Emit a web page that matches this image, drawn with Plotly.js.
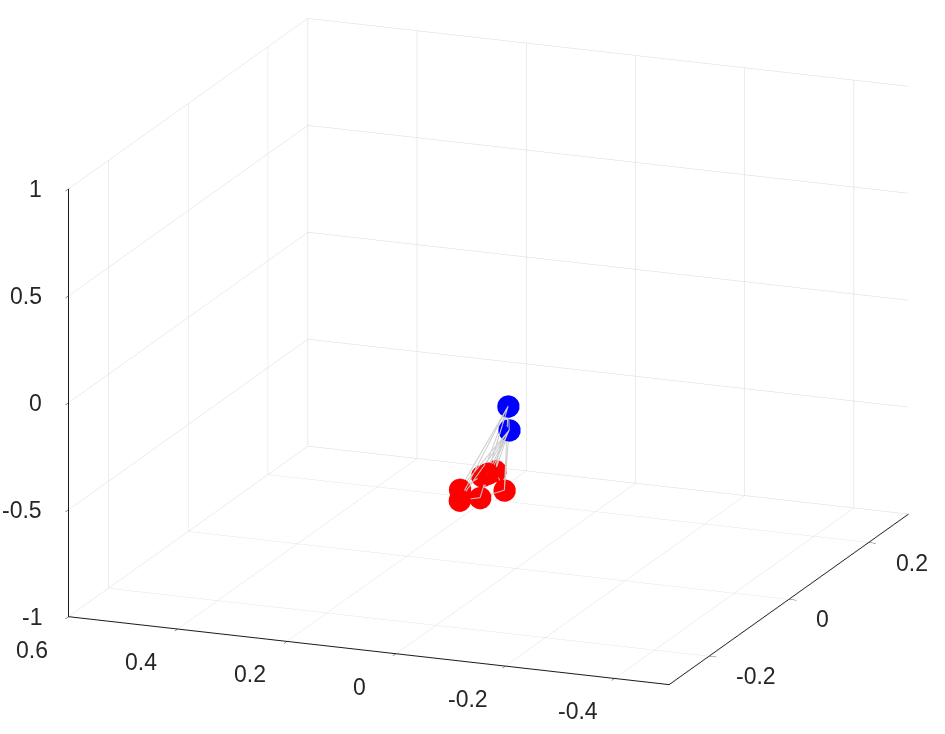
<!DOCTYPE html>
<html>
<head>
<meta charset="utf-8">
<script src="https://cdn.plot.ly/plotly-3.0.1.min.js"></script>
<style>
  html, body { margin: 0; padding: 0; background: #ffffff; }
  #graph { width: 945px; height: 734px; }
</style>
</head>
<body>
<div id="graph"></div>
<script>
// node coordinates
const nodeX = [0.014, 0.012, 0.074, 0.062, 0.015, 0.066, 0.030, 0.029, 0.021];
const nodeY = [0.00, 0.00, 0.05, 0.00, -0.05, -0.05, -0.10, -0.05, 0.00];
const nodeZ = [-0.245, -0.356, -0.631, -0.585, -0.494, -0.583, -0.557, -0.611, -0.640];
const nodeGroup = ['blue', 'blue', 'red', 'red', 'red', 'red', 'red', 'red', 'red'];

// edges (source, target) as node indices
const edgeFrom = [0, 0, 0, 0, 0, 0, 0, 0, 1, 1, 1, 1, 1, 1, 1, 2, 2, 3, 3, 4, 5, 6, 7];
const edgeTo   = [1, 2, 3, 4, 5, 6, 7, 8, 2, 3, 4, 5, 6, 7, 8, 3, 8, 4, 5, 7, 6, 7, 8];

// tick labels
const xTicks = [-0.4, -0.2, 0, 0.2, 0.4, 0.6];
const yTicks = [-0.2, 0, 0.2];
const zTicks = [-1, -0.5, 0, 0.5, 1];

const xRange = [0.6, -0.5];
const yRange = [-0.3, 0.3];
const zRange = [-1, 1];

function drawGraph() {
    // build edge line segments
    const ex = [], ey = [], ez = [];
    for (let i = 0; i < edgeFrom.length; i++) {
        const a = edgeFrom[i], b = edgeTo[i];
        ex.push(nodeX[a], nodeX[b], null);
        ey.push(nodeY[a], nodeY[b], null);
        ez.push(nodeZ[a], nodeZ[b], null);
    }
    const edges = {
        type: 'scatter3d', mode: 'lines',
        x: ex, y: ey, z: ez,
        line: { color: '#cccccc', width: 2 },
        hoverinfo: 'skip', showlegend: false
    };

    const pick = (arr, g) => arr.filter((v, i) => nodeGroup[i] === g);
    const nodesOf = (g, col) => ({
        type: 'scatter3d', mode: 'markers',
        x: pick(nodeX, g), y: pick(nodeY, g), z: pick(nodeZ, g),
        marker: { color: col, size: 13, line: { width: 0 }, opacity: 1 },
        showlegend: false
    });

    const axisBase = {
        showbackground: false,
        showgrid: true,
        gridcolor: '#d9d9d9',
        gridwidth: 1,
        zeroline: false,
        showline: true,
        linecolor: '#1a1a1a',
        linewidth: 2,
        ticks: 'outside',
        tickcolor: '#1a1a1a',
        ticklen: 8,
        showspikes: false,
        showticklabels: false,
        title: { text: '' }
    };

    // horizontal tick labels, placed at 3D positions
    const font = { family: 'Liberation Sans, Arial, sans-serif', size: 23, color: '#262626' };
    const ann = [];
    xTicks.forEach(v => ann.push({ x: v, y: yRange[0], z: zRange[0], text: String(v), showarrow: false,
        font: font, xanchor: 'center', yanchor: 'middle', xshift: -37, yshift: -33 }));
    yTicks.forEach(v => ann.push({ x: xRange[1], y: v, z: zRange[0], text: String(v), showarrow: false,
        font: font, xanchor: 'left', yanchor: 'middle', xshift: 25, yshift: -20 }));
    zTicks.forEach(v => ann.push({ x: xRange[0], y: yRange[0], z: v, text: String(v), showarrow: false,
        font: font, xanchor: 'right', yanchor: 'middle', xshift: -25, yshift: 0 }));

    const k = 1.85;
    const layout = {
        width: 945, height: 734,
        margin: { l: 0, r: 0, t: 0, b: 0 },
        paper_bgcolor: '#ffffff',
        showlegend: false,
        scene: {
            domain: { x: [0.034, 1.0], y: [0.045, 0.997] },
            xaxis: Object.assign({}, axisBase, { range: xRange, tickvals: xTicks }),
            yaxis: Object.assign({}, axisBase, { range: yRange, tickvals: yTicks }),
            zaxis: Object.assign({}, axisBase, { range: zRange, tickvals: zTicks }),
            aspectmode: 'manual',
            aspectratio: { x: 1 * k, y: 1 * k, z: 0.69 * k },
            camera: {
                eye: { x: 0.355 * 3, y: -0.891 * 3, z: 0.284 * 3 },
                center: { x: 0, y: 0, z: 0 },
                up: { x: 0, y: 0, z: 1 },
                projection: { type: 'orthographic' }
            },
            annotations: ann
        }
    };

    Plotly.newPlot('graph', [edges, nodesOf('blue', '#0000ff'), nodesOf('red', '#ff0000')], layout, { displayModeBar: false });
}

drawGraph();
</script>
</body>
</html>
